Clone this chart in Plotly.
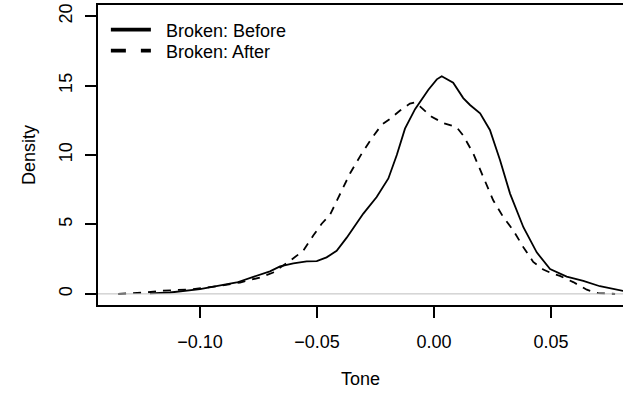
import plotly.graph_objects as go

# Kernel density estimates of Tone
before_x = [-0.1214, -0.1128, -0.1000, -0.0915, -0.0843, -0.0772, -0.0701, -0.0658,
            -0.0601, -0.0544, -0.0501, -0.0459, -0.0416, -0.0373, -0.0302, -0.0245,
            -0.0195, -0.0159, -0.0124, -0.0081, -0.0024, 0.0012, 0.0033, 0.0082,
            0.0125, 0.0154, 0.0197, 0.0239, 0.0282, 0.0325, 0.0382, 0.0439,
            0.0496, 0.0567, 0.0638, 0.0709, 0.0808, 0.0880]
before_y = [0.03, 0.10, 0.34, 0.60, 0.82, 1.23, 1.62, 1.98,
            2.20, 2.34, 2.36, 2.63, 3.10, 4.05, 5.78, 6.98,
            8.31, 10.0, 11.9, 13.3, 14.7, 15.45, 15.67, 15.2,
            14.1, 13.6, 13.0, 11.8, 9.64, 7.22, 4.80, 2.99,
            1.79, 1.25, 0.94, 0.55, 0.22, 0.08]

after_x = [-0.1350, -0.1278, -0.1231, -0.1171, -0.1029, -0.0915, -0.0829, -0.0744,
           -0.0687, -0.0615, -0.0559, -0.0516, -0.0480, -0.0444, -0.0402, -0.0359,
           -0.0309, -0.0266, -0.0224, -0.0188, -0.0145, -0.0103, -0.0081, -0.0060,
           -0.0010, 0.0040, 0.0097, 0.0125, 0.0168, 0.0211, 0.0253, 0.0296,
           0.0339, 0.0382, 0.0424, 0.0467, 0.0510, 0.0538, 0.0595, 0.0653,
           0.0701, 0.0774]
after_y = [0.00, 0.03, 0.10, 0.22, 0.34, 0.58, 0.82, 1.18,
           1.54, 2.39, 3.10, 4.20, 5.05, 5.70, 7.22, 8.67,
           10.1, 11.2, 12.17, 12.6, 13.2, 13.7, 13.78, 13.5,
           12.75, 12.3, 12.0, 11.4, 10.1, 8.43, 6.74, 5.53,
           4.57, 3.36, 2.30, 1.75, 1.43, 1.30, 0.85, 0.30,
           0.05, 0.00]

series_names = ["Broken: Before", "Broken: After"]
x_ticks = [-0.10, -0.05, 0.00, 0.05]
x_tick_text = ["\u22120.10", "\u22120.05", "0.00", "0.05"]
y_ticks = [0, 5, 10, 15, 20]

FONT = "Liberation Sans, Arial, Helvetica, sans-serif"
PAD = "\u00a0\u00a0"

fig = go.Figure()
fig.add_trace(go.Scatter(x=before_x, y=before_y, mode="lines",
                         line=dict(color="black", width=1.8),
                         showlegend=False, hoverinfo="skip"))
fig.add_trace(go.Scatter(x=after_x, y=after_y, mode="lines",
                         line=dict(color="black", width=1.8, dash="8px,7px"),
                         showlegend=False, hoverinfo="skip"))
# legend entries
fig.add_trace(go.Scatter(x=[None], y=[None], mode="lines", name=PAD + series_names[0],
                         line=dict(color="black", width=3.8), legend="legend"))
fig.add_trace(go.Scatter(x=[None], y=[None], mode="lines", name=PAD + series_names[1],
                         line=dict(color="black", width=3.8, dash="15px,15px"),
                         legend="legend2"))

fig.add_shape(type="line", xref="paper", x0=0, x1=1, yref="y", y0=0, y1=0,
              line=dict(color="#BEBEBE", width=1), layer="above")

leg_common = dict(bgcolor="rgba(0,0,0,0)", borderwidth=0,
                  font=dict(family=FONT, size=18, color="black"),
                  xanchor="left", yanchor="middle", itemwidth=40)

fig.update_layout(
    width=623, height=397,
    margin=dict(l=98, r=0, t=5, b=92),
    paper_bgcolor="white", plot_bgcolor="white",
    font=dict(family=FONT, size=18, color="black"),
    legend=dict(x=0.015, y=1 - (30 - 5) / 300, **leg_common),
    legend2=dict(x=0.015, y=1 - (51 - 5) / 300, **leg_common),
    xaxis=dict(range=[-0.14359, 0.08077], tickvals=x_ticks, ticktext=x_tick_text,
               showgrid=False, zeroline=False, showline=True, mirror=True,
               linecolor="black", linewidth=1.8, ticks="outside", ticklen=11,
               tickwidth=1.5, tickcolor="black", ticklabelstandoff=8,
               title=dict(text="Tone", standoff=22, font=dict(size=18))),
    yaxis=dict(range=[-0.8, 20.8], tickvals=y_ticks, tickangle=-90,
               showgrid=False, zeroline=False, showline=True, mirror=False,
               linecolor="black", linewidth=1.8, ticks="outside", ticklen=11,
               tickwidth=1.5, tickcolor="black", ticklabelstandoff=6,
               title=dict(text="Density", standoff=16, font=dict(size=18))),
)

fig.write_html("out.html")
